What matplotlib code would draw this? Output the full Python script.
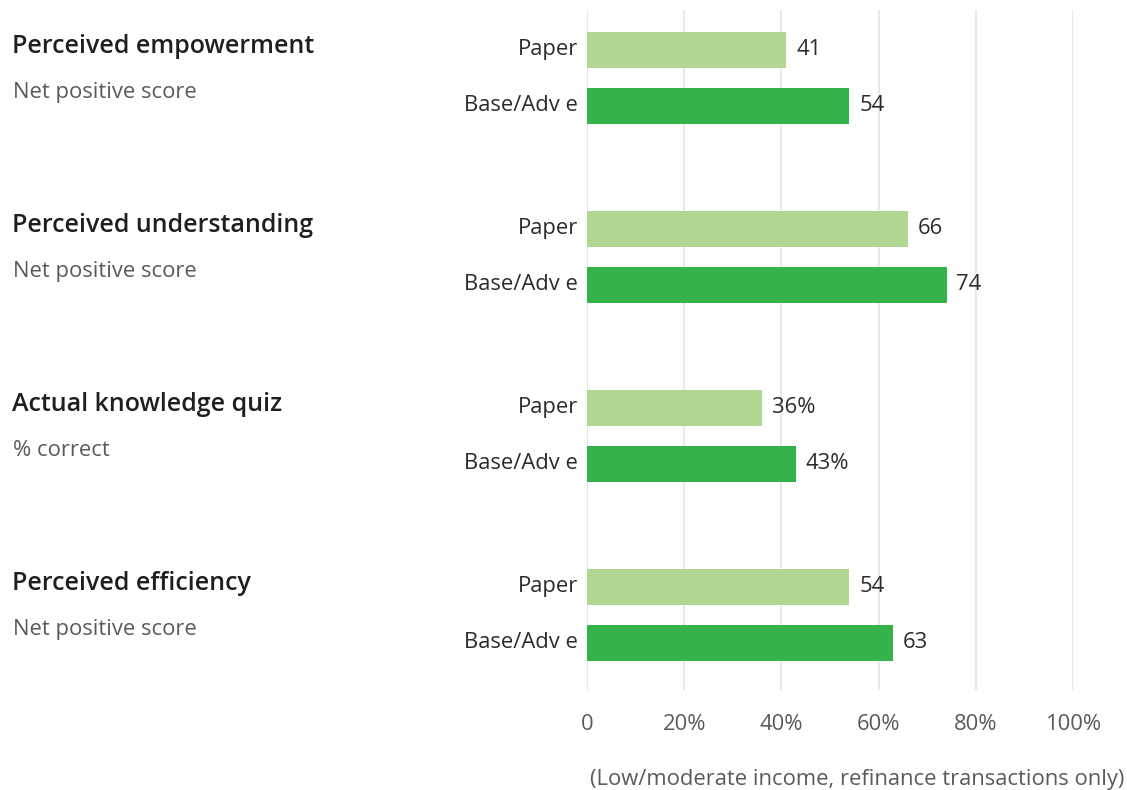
import matplotlib.pyplot as plt
import numpy as np

plt.rcParams['font.family'] = ['Open Sans', 'DejaVu Sans']

titles = ['Perceived empowerment', 'Perceived understanding', 'Actual knowledge quiz', 'Perceived efficiency']
subtitles = ['Net positive score', 'Net positive score', '% correct', 'Net positive score']
series = ['Paper', 'Base/Adv e']
paper = [41, 66, 36, 54]
base_adv = [54, 74, 43, 63]
suffix = ['', '', '%', '']
xticks = [0, 20, 40, 60, 80, 100]
xticklabels = ['0', '20%', '40%', '60%', '80%', '100%']
note = '(Low/moderate income, refinance transactions only)'

light = '#b2d792'
dark = '#33b34a'
text_dark = '#2b2b2b'
text_grey = '#5a5a5a'
fs = 15.8

fig = plt.figure(figsize=(11.27, 7.90), dpi=100)
ax = fig.add_axes([0.5209, 0.1266, 0.4312, 0.8608])

# y in row units, 179 per question block, 56 between the two bars
gap = 179
ypaper = 40 + np.arange(len(titles)) * gap
ybase = ypaper + 56

ax.barh(ypaper, paper, height=36, color=light, zorder=2)
ax.barh(ybase, base_adv, height=36, color=dark, zorder=2)

for i in range(len(titles)):
    for y, v in ((ypaper[i], paper[i]), (ybase[i], base_adv[i])):
        ax.text(v + 2, y, str(v) + suffix[i], va='center', ha='left',
                fontsize=fs, color=text_dark)
    ax.text(-1.9, ypaper[i], series[0], va='center', ha='right', fontsize=fs, color=text_dark)
    ax.text(-1.9, ybase[i], series[1], va='center', ha='right', fontsize=fs, color=text_dark)

ax.set_xlim(0, 100)
ax.set_ylim(680, 0)
ax.set_xticks(xticks)
ax.set_xticklabels(xticklabels, fontsize=fs, color=text_grey)
ax.tick_params(axis='x', length=0, pad=17)
ax.set_yticks([])
ax.grid(axis='x', color='#e4e4e4', linewidth=1.2, zorder=0)
for s in ax.spines.values():
    s.set_visible(False)

# group headings on the left, placed in data y so they follow the bars
to_fig = fig.transFigure.inverted()
for i in range(len(titles)):
    fig_y = to_fig.transform(ax.transData.transform((0, ypaper[i] - 3)))[1]
    fig.text(0.0107, fig_y, titles[i], va='center', ha='left', fontsize=18,
             fontweight='semibold', color='#1f1f1f')
    fig_y = to_fig.transform(ax.transData.transform((0, ybase[i] - 13)))[1]
    fig.text(0.0115, fig_y, subtitles[i], va='center', ha='left', fontsize=fs,
             color=text_grey)

fig.text(0.998, 0.013, note, ha='right', va='center', fontsize=fs, color=text_grey)

plt.savefig('out.png')
plt.close()
